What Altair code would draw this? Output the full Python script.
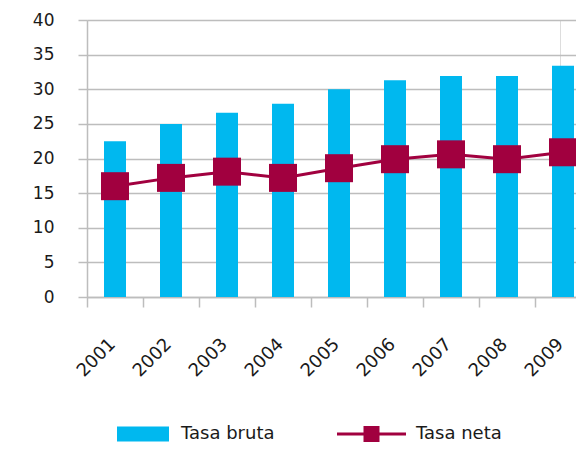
import altair as alt
import pandas as pd

years = ["2001", "2002", "2003", "2004", "2005", "2006", "2007", "2008", "2009"]
tasa_bruta = [22.5, 25.0, 26.6, 27.9, 30.0, 31.3, 31.9, 31.9, 33.4]
tasa_neta = [16.0, 17.2, 18.1, 17.2, 18.6, 19.9, 20.6, 19.9, 20.9]
series = ["Tasa bruta", "Tasa neta"]
colors = ["#00B8EF", "#A1003F"]
y_ticks = [0, 5, 10, 15, 20, 25, 30, 35, 40]

df_b = pd.DataFrame({"year": years, "value": tasa_bruta, "serie": series[0]})
df_n = pd.DataFrame({"year": years, "value": tasa_neta, "serie": series[1]})
df_leg = pd.DataFrame({"year": [years[0], years[0]], "value": [0, 0], "serie": series})

FONT = "DejaVu Sans"
GRID = "#BDBDBD"

shape_bar = "M-2.6,-0.75H2.6V0.75H-2.6Z"
shape_line = "M-4.1,-0.15H2.8V0.15H-4.1Z M-1.45,-0.8H0.15V0.8H-1.45Z"

legend = alt.Legend(
    title=None, orient="none", legendX=46, legendY=404,
    direction="horizontal", columns=2, columnPadding=62,
    symbolSize=400, labelOffset=28, labelFont=FONT, labelFontSize=18,
    labelColor="#1a1a1a", symbolStrokeWidth=0, symbolOpacity=1,
)

color_leg = alt.Color("serie:N", scale=alt.Scale(domain=series, range=colors), legend=legend)
shape_leg = alt.Shape("serie:N", scale=alt.Scale(domain=series, range=[shape_bar, shape_line]), legend=legend)

x = alt.X("year:N", sort=years,
          scale=alt.Scale(range=[0, 504], paddingInner=0, paddingOuter=0),
          axis=alt.Axis(title=None, labelAngle=315, labelAlign="right", labelBaseline="top",
                        tickBand="extent", tickSize=10, labelPadding=28, labelOffset=-9, grid=False,
                        domainColor=GRID, domainWidth=1.5, tickColor=GRID, tickWidth=1.5,
                        labelFont=FONT, labelFontSize=18, labelColor="#1a1a1a"))
y = alt.Y("value:Q", scale=alt.Scale(domain=[0, 40], nice=False),
          axis=alt.Axis(title=None, values=y_ticks, tickSize=9, labelPadding=24,
                        gridColor=GRID, gridWidth=1.5, domainColor=GRID, domainWidth=1.5,
                        tickColor=GRID, tickWidth=1.5,
                        labelFont=FONT, labelFontSize=17, labelColor="#1a1a1a"))

bars = alt.Chart(df_b).mark_bar(width=22, color=colors[0]).encode(x=x, y=y)
line = alt.Chart(df_n).mark_line(strokeWidth=3, color=colors[1]).encode(x=x, y=y)
pts = alt.Chart(df_n).mark_point(shape="square", filled=True, size=784, opacity=1,
                                 color=colors[1]).encode(x=x, y=y)
leg = alt.Chart(df_leg).mark_point(filled=True, opacity=0).encode(x=x, y=y, color=color_leg, shape=shape_leg)

chart = alt.layer(bars, line, pts, leg).properties(
    width=473, height=277,
    autosize=alt.AutoSizeParams(type="none"),
    padding={"left": 79, "top": 12, "right": 16, "bottom": 145},
).configure_view(stroke=None).configure(background="white")

chart.save("out.html", embed_options={"renderer": "svg", "actions": False})
